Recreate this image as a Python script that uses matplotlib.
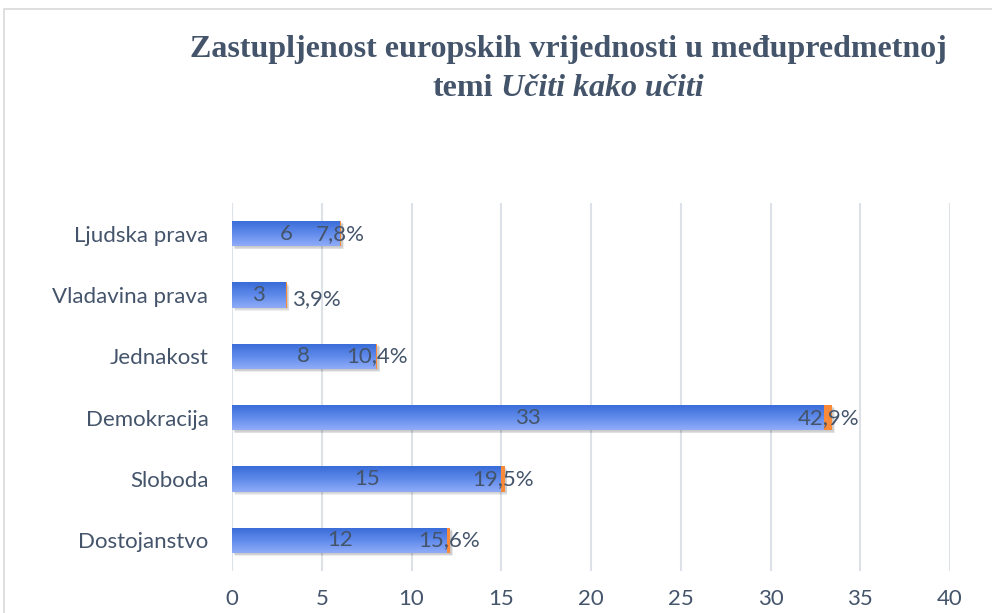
import numpy as np
import matplotlib.pyplot as plt
from matplotlib.patches import Rectangle
from matplotlib.colors import LinearSegmentedColormap

categories = ["Dostojanstvo", "Sloboda", "Demokracija", "Jednakost",
              "Vladavina prava", "Ljudska prava"]
counts = [12, 15, 33, 8, 3, 6]
percents = [15.6, 19.5, 42.9, 10.4, 3.9, 7.8]
xticks = [0, 5, 10, 15, 20, 25, 30, 35, 40]

TEXT = "#44546a"
GRID = "#dde1e8"
ORANGE = "#f98a3a"
LABEL_FONT = ["Lato", "DejaVu Sans"]
FS = 16

fig = plt.figure(figsize=(9.92, 6.13), dpi=100)
ax = fig.add_axes([232 / 992, 1 - 571 / 613, 718 / 992, 368 / 613])

# outer chart border (cut off at right/bottom like the reference)
fig.patches.append(Rectangle((4 / 992, -0.1), 1.2, 1 - 9 / 613 + 0.1,
                             transform=fig.transFigure, fill=False,
                             edgecolor="#d9d9d9", linewidth=1.2))

h = 0.41
y = np.arange(len(categories))
grad = np.linspace(0, 1, 64).reshape(-1, 1)
cmap = LinearSegmentedColormap.from_list("blu", ["#90acf8", "#5f8aeb", "#386bd6"])

for yi, c, p in zip(y, counts, percents):
    # soft shadow under each bar
    for k, a in enumerate([0.04, 0.05, 0.06, 0.07]):
        off = 0.015 + k * 0.012
        ax.add_patch(Rectangle((0.08 + k * 0.02, yi - h / 2 - off), c + p / 100,
                               h, color="black", alpha=a, lw=0, zorder=1.5))
    bar = ax.barh(yi, c, height=h, color="#5b86ea", zorder=2)[0]
    im = ax.imshow(grad, extent=(0, c, yi + h / 2, yi - h / 2), cmap=cmap,
                   aspect="auto", zorder=2.1, interpolation="bicubic")
    im.set_clip_path(bar)
    ax.barh(yi, p / 100, left=c, height=h, color=ORANGE, zorder=2.2)
    ax.text(c / 2, yi, str(c), ha="center", va="center", fontsize=FS,
            color=TEXT, family=LABEL_FONT, zorder=3)
    ptxt = f"{p:.1f}%".replace(".", ",")
    if c < 4:
        # too short for both labels: put the percentage just past the bar
        ax.text(c + p / 100 + 0.3, yi - 0.07, ptxt, ha="left", va="center",
                fontsize=FS, color=TEXT, family=LABEL_FONT, zorder=3)
    else:
        ax.text(c + p / 200, yi, ptxt, ha="center", va="center", fontsize=FS,
                color=TEXT, family=LABEL_FONT, zorder=3)

ax.set_xlim(0, 40)
ax.set_ylim(-0.5, len(categories) - 0.5)
ax.set_xticks(xticks)
ax.set_yticks(y)
ax.set_yticklabels(categories)
ax.grid(axis="x", color=GRID, linewidth=1.5, zorder=0)
ax.set_axisbelow(True)
for s in ax.spines.values():
    s.set_visible(False)
ax.tick_params(length=0, labelsize=FS, labelcolor=TEXT)
ax.tick_params(axis="x", pad=13)
ax.tick_params(axis="y", pad=17)
for lab in ax.get_xticklabels() + ax.get_yticklabels():
    lab.set_family(LABEL_FONT)

tkw = dict(fontsize=23, fontweight="bold", color=TEXT,
           family=["Liberation Serif", "DejaVu Serif"])
cx = 568 / 992
fig.text(cx, 1 - 50 / 613, "Zastupljenost europskih vrijednosti u međupredmetnoj",
         ha="center", va="center", **tkw)
t1 = fig.text(0, 1 - 88 / 613, "temi", ha="left", va="center", **tkw)
t2 = fig.text(0, 1 - 88 / 613, "Učiti kako učiti", ha="left", va="center",
              style="italic", **tkw)
r = fig.canvas.get_renderer()
w1 = t1.get_window_extent(r).width / fig.bbox.width
w2 = t2.get_window_extent(r).width / fig.bbox.width
gap = 8 / 992
x0 = cx - (w1 + gap + w2) / 2
t1.set_x(x0)
t2.set_x(x0 + w1 + gap)

fig.savefig("out.png", dpi=100)
